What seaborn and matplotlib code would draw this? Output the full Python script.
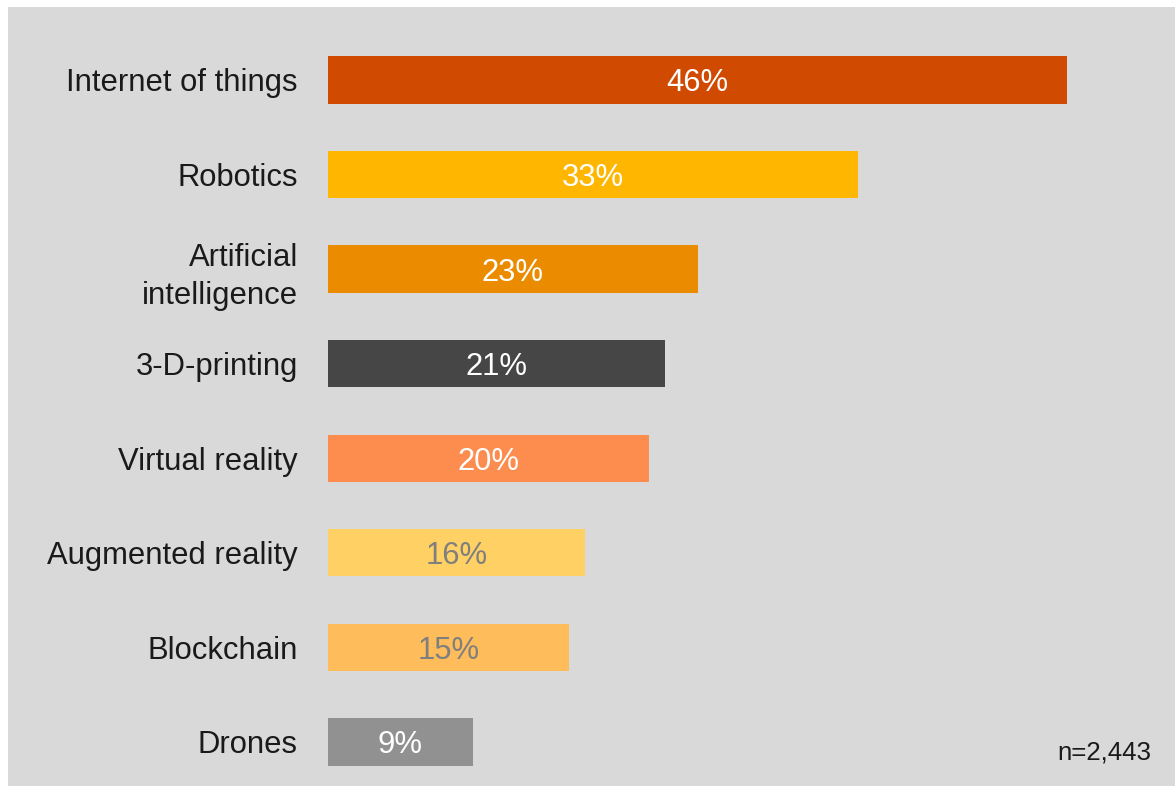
import matplotlib
matplotlib.use("Agg")
import matplotlib.pyplot as plt
import seaborn as sns
import pandas as pd
from matplotlib.patches import Rectangle

# Survey results: share of respondents per emerging technology
technologies = [
    "Internet of things",
    "Robotics",
    "Artificial\nintelligence",
    "3-D-printing",
    "Virtual reality",
    "Augmented reality",
    "Blockchain",
    "Drones",
]
shares = [46, 33, 23, 21, 20, 16, 15, 9]
bar_colors = ["#D04A02", "#FFB600", "#EB8C00", "#464646",
              "#FD8C4F", "#FFD064", "#FFBC5A", "#919191"]
label_colors = ["white", "white", "white", "white",
                "white", "#7F7F7F", "#7F7F7F", "white"]
sample_note = "n=2,443"

sns.set_theme(style="white")
plt.rcParams["font.family"] = ["Liberation Sans", "DejaVu Sans"]

W, H = 1175, 786
fig = plt.figure(figsize=(W / 100, H / 100), dpi=100)
fig.patch.set_facecolor("white")

# grey panel behind the chart
fig.add_artist(Rectangle((8 / W, 0), 1 - 8 / W, 1 - 7 / H,
                         transform=fig.transFigure, facecolor="#D9D9D9",
                         edgecolor="none", zorder=0))

ax = fig.add_axes([328 / W, 0, 803.5 / W, 753.3 / H])
ax.set_facecolor("none")

df = pd.DataFrame({"tech": technologies, "share": shares})
sns.barplot(data=df, y="tech", x="share", hue="tech", palette=bar_colors,
            orient="h", width=0.5, legend=False, ax=ax, linewidth=0,
            saturation=1)

ax.set_xlim(0, 50)
ax.set_ylim(7.466, -0.5)
ax.set_xlabel("")
ax.set_ylabel("")
ax.set_xticks([])
for s in ax.spines.values():
    s.set_visible(False)
ax.tick_params(axis="y", length=0, pad=21.6, labelsize=22.3, labelcolor="#1A1A1A")
for lbl in ax.get_yticklabels():
    lbl.set_linespacing(1.35)

for i, (v, c) in enumerate(zip(shares, label_colors)):
    ax.text(v / 2, i, f"{v}%", ha="center", va="center_baseline",
            fontsize=22.3, color=c)

fig.text(1151 / W, 1 - 750 / H, sample_note, ha="right", va="center_baseline",
         fontsize=18.6, color="#1A1A1A")

fig.savefig("out.png", dpi=100, facecolor="white")
